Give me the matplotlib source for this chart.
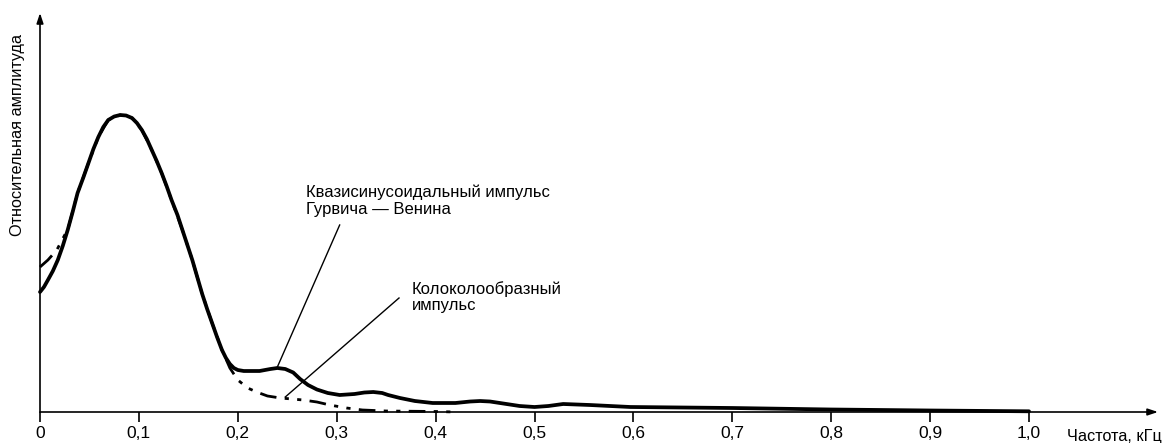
import matplotlib
matplotlib.use("Agg")
import matplotlib.pyplot as plt

plt.rcParams['font.family'] = ['Liberation Sans', 'DejaVu Sans']

# Frequency, kHz (solid curve: quasi-sinusoidal Gurvich-Venin pulse)
freq_solid = [0.000, 0.004, 0.008, 0.013, 0.018, 0.023, 0.028, 0.033, 0.038, 0.044,
              0.049, 0.054, 0.059, 0.064, 0.069, 0.075, 0.081, 0.087, 0.093, 0.098,
              0.103, 0.108, 0.113, 0.118, 0.123, 0.128, 0.133, 0.139, 0.144, 0.149,
              0.154, 0.159, 0.164, 0.169, 0.174, 0.179, 0.184, 0.188, 0.192, 0.196,
              0.200, 0.206, 0.212, 0.222, 0.233, 0.240, 0.248, 0.256, 0.263, 0.271,
              0.280, 0.291, 0.303, 0.318, 0.328, 0.337, 0.346, 0.352, 0.364, 0.379,
              0.397, 0.420, 0.435, 0.445, 0.455, 0.465, 0.485, 0.500, 0.514, 0.529,
              0.556, 0.597, 0.700, 0.800, 0.900, 1.000]
amp_solid = [120, 125, 132, 141, 152, 166, 182, 200, 219, 235,
             249, 263, 275, 285, 292, 295.5, 297, 296.5, 294, 289,
             282, 273, 262, 251, 239, 226, 212, 197, 182, 167,
             152, 135, 118, 103, 89, 75, 62, 54, 48, 44,
             42, 41, 41, 41, 43, 44, 43, 39.5, 33, 27,
             22.5, 19, 17, 18, 19.5, 20, 19, 17, 14, 11,
             9, 9, 10.5, 11, 10.5, 9, 6, 5, 6, 8,
             7, 5, 4, 2.5, 1.5, 0.7]

# Dash-dot-dot curve: bell-shaped pulse
freq_dash = [0.000, 0.008, 0.017, 0.025, 0.028, 0.038, 0.049, 0.059, 0.069, 0.081,
             0.093, 0.103, 0.113, 0.123, 0.133, 0.144, 0.154, 0.164, 0.174, 0.184,
             0.192, 0.200, 0.210, 0.219, 0.230, 0.243, 0.255, 0.266, 0.280, 0.293,
             0.310, 0.326, 0.350, 0.400, 0.420]
amp_dash = [145, 152, 162, 177, 182, 219, 249, 275, 292, 297,
            294, 282, 262, 239, 212, 182, 152, 118, 89, 62,
            44, 32, 24, 20, 16, 14, 13, 12, 10, 7,
            4, 2, 1, 0.5, 0]

xtick_vals = [0.0, 0.1, 0.2, 0.3, 0.4, 0.5, 0.6, 0.7, 0.8, 0.9, 1.0]
xtick_labels = ['0', '0,1', '0,2', '0,3', '0,4', '0,5', '0,6', '0,7', '0,8', '0,9', '1,0']

W, H = 1165, 443
fig = plt.figure(figsize=(W / 100, H / 100), dpi=100)
ax = fig.add_axes([40 / W, 31 / H, (1158 - 40) / W, (430 - 31) / H])
xmax = (1158 - 40) / 989.0
ymax = 399
ax.set_xlim(0, xmax)
ax.set_ylim(0, ymax)
for s in ax.spines.values():
    s.set_visible(False)

ax.plot(freq_dash, amp_dash, color='black', lw=2.0,
        linestyle=(0, (6, 3, 1.5, 3, 1.5, 3)), clip_on=False, zorder=2)
ax.plot(freq_solid, amp_solid, color='black', lw=2.7, solid_capstyle='round',
        solid_joinstyle='round', clip_on=False, zorder=3)

# axes with arrows
ax.annotate('', xy=(xmax, 0), xytext=(0, 0), xycoords='data',
            arrowprops=dict(arrowstyle='-|>,head_length=0.6,head_width=0.2',
                            color='black', lw=1.2, shrinkA=0, shrinkB=0),
            annotation_clip=False)
ax.annotate('', xy=(0, ymax), xytext=(0, 0), xycoords='data',
            arrowprops=dict(arrowstyle='-|>,head_length=0.6,head_width=0.2',
                            color='black', lw=1.2, shrinkA=0, shrinkB=0),
            annotation_clip=False)

ax.set_xticks(xtick_vals)
ax.set_xticklabels(xtick_labels, fontsize=12.5)
ax.set_yticks([])
ax.tick_params(axis='x', direction='out', length=7, width=1.2, pad=3)

fig.text(1067 / W, 1 - 436 / H, 'Частота, кГц', fontsize=11.7, ha='left', va='center')
fig.text(18 / W, 1 - 135 / H, 'Относительная амплитуда', fontsize=11.7,
         rotation=90, ha='center', va='center')

# annotations
ax.text(0.269, 227, 'Квазисинусоидальный импульс\nГурвича — Венина', fontsize=12,
        ha='left', va='top', linespacing=1.1)
ax.plot([0.303, 0.240], [187, 45], color='black', lw=1.0)
ax.text(0.376, 131, 'Колоколообразный\nимпульс', fontsize=12,
        ha='left', va='top', linespacing=1.1)
ax.plot([0.363, 0.248], [114, 15], color='black', lw=1.0)

fig.savefig('out.png', dpi=100)
